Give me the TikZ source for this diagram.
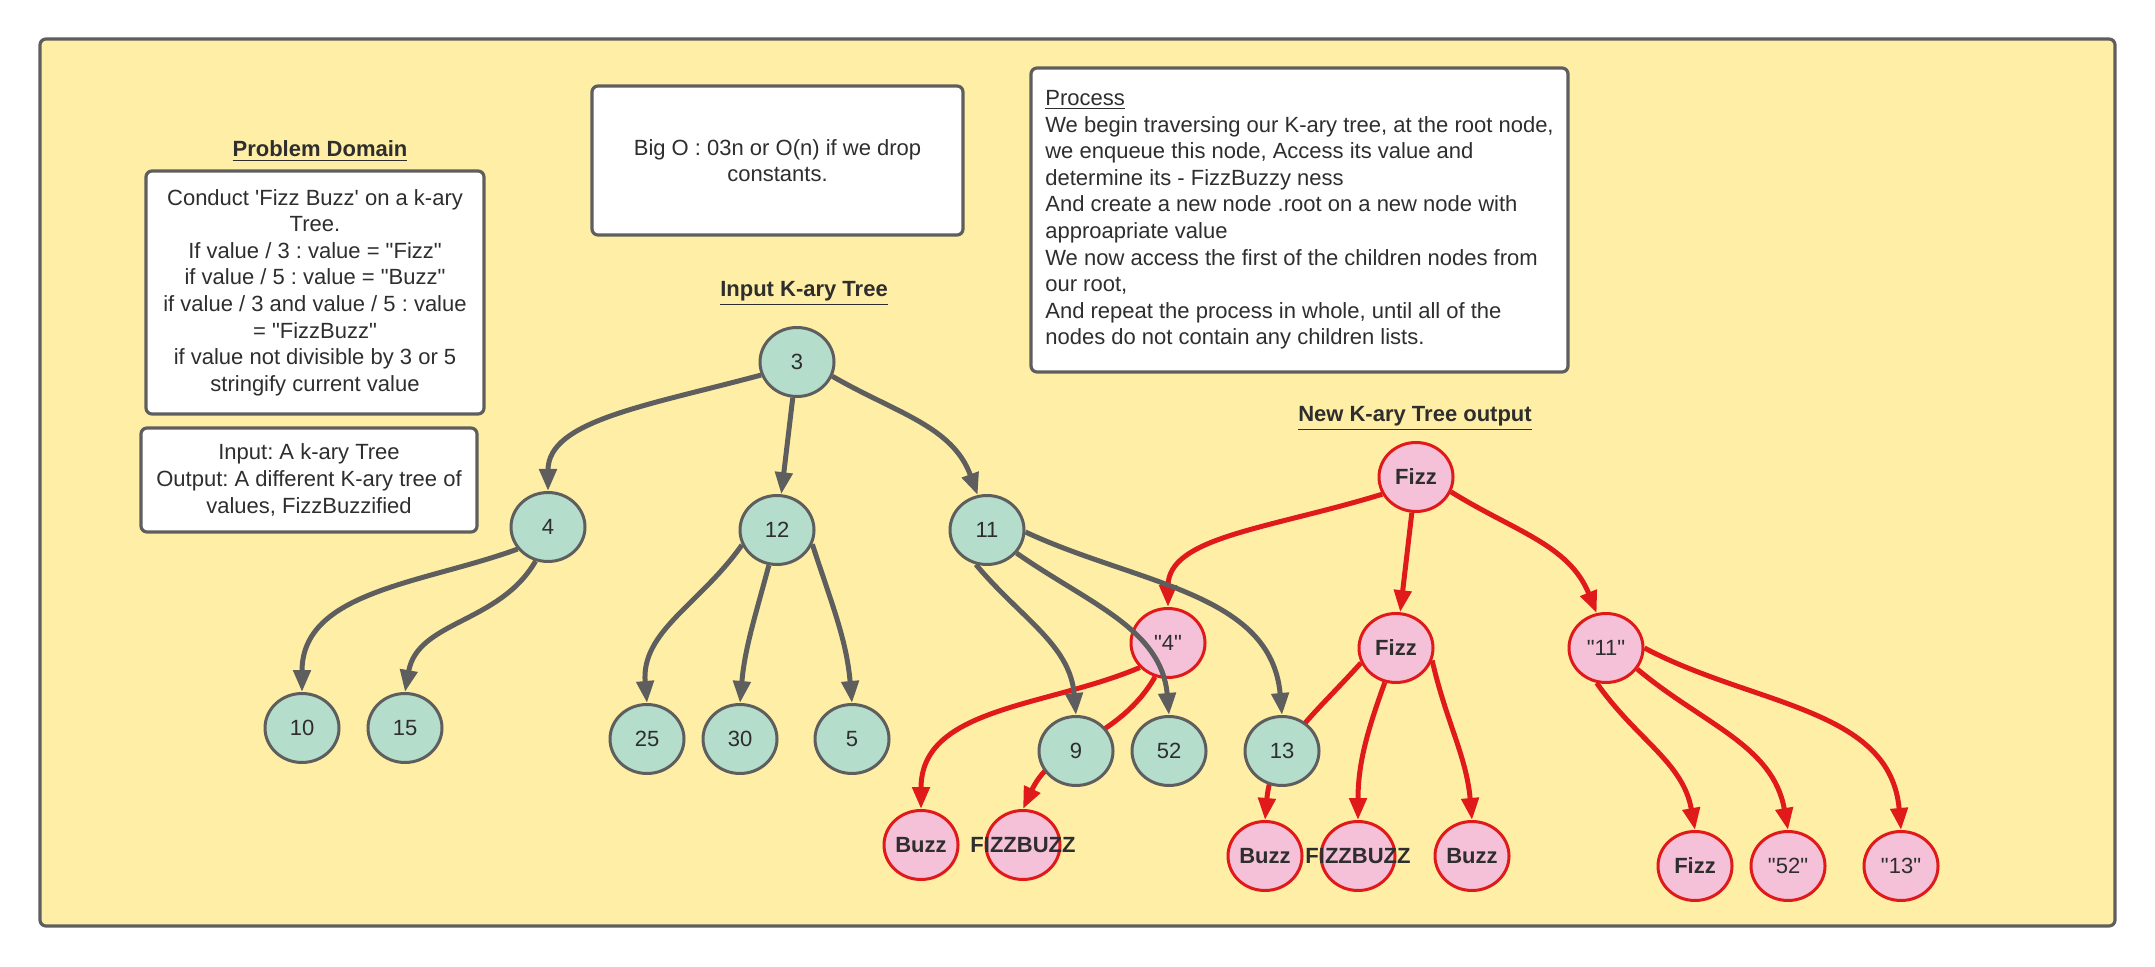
\documentclass[tikz,border=0pt]{standalone}
\usepackage{fontspec}
\newfontfamily\lsans{Liberation Sans}
\usetikzlibrary{shapes.geometric,arrows.meta}
\frenchspacing

\definecolor{paper}{HTML}{FFEFA6}
\definecolor{edgegrey}{HTML}{5E5E5E}
\definecolor{mint}{HTML}{B4DDCB}
\definecolor{rose}{HTML}{F5C1D8}
\definecolor{rededge}{HTML}{E01A1A}
\definecolor{ink}{HTML}{2E2E2E}

\newcommand{\wide}[1]{\makebox[0pt][c]{#1}}

\begin{document}
\begin{tikzpicture}[x=0.5pt, y=-0.5pt,
  every node/.style={text=ink, font=\lsans\frenchspacing\fontsize{11pt}{13.3pt}\selectfont},
  frame/.style={draw=edgegrey, line width=1.6pt, fill=paper, rounded corners=3pt},
  box/.style={draw=edgegrey, line width=1.6pt, fill=white, rounded corners=3pt, inner sep=0pt},
  title/.style={anchor=base, font=\lsans\bfseries\fontsize{11pt}{13.3pt}\selectfont},
  kn/.style={ellipse, minimum width=37pt, minimum height=34.5pt, inner sep=0pt, line width=1.5pt},
  innode/.style={kn, draw=edgegrey, fill=mint},
  outnode/.style={kn, draw=rededge, fill=rose},
  bold/.style={font=\lsans\bfseries\fontsize{11pt}{13.3pt}\selectfont},
  tip/.style={-{Triangle[length=11pt,width=8.5pt]}},
  garrow/.style={draw=edgegrey, line width=2.5pt, tip},
  rarrow/.style={draw=rededge, line width=2.5pt, tip}
]
\useasboundingbox (0,0) rectangle (2155,967);
\fill[white] (0,0) rectangle (2155,967);
\draw[frame] (40,39) rectangle (2115,926);

% text panels
\node[title] (pdtitle) at (320,157) {\underline{Problem Domain}};
\node[box, minimum width=169pt, minimum height=121.5pt, align=center] (pdbox) at (315,292.5)
  {Conduct 'Fizz Buzz' on a k-ary\\Tree.\\If value / 3 : value = "Fizz"\\if value / 5 : value = "Buzz"\\if value / 3 and value / 5 : value\\= "FizzBuzz"\\if value not divisible by 3 or 5\\stringify current value};
\node[box, minimum width=168pt, minimum height=52pt, align=center] (iobox) at (309,480)
  {Input: A k-ary Tree\\Output: A different K-ary tree of\\values, FizzBuzzified};
\node[box, minimum width=185.5pt, minimum height=74.5pt, align=center] (bigo) at (777.5,160.5)
  {Big O : 03n or O(n) if we drop\\constants.};
\node[box, minimum width=268.5pt, minimum height=152pt, align=left] (proc) at (1299.5,220)
  {\underline{Process}\\
   We begin traversing our K-ary tree, at the root node,\\
   we enqueue this node, Access its value and\\
   determine its - FizzBuzzy ness\\
   And create a new node .root on a new node with\\
   approapriate value\\
   We now access the first of the children nodes from\\
   our root,\\
   And repeat the process in whole, until all of the\\
   nodes do not contain any children lists.};
\node[title] (intitle) at (804,297) {\underline{Input K-ary Tree}};
\node[title] (outtitle) at (1415,422) {\underline{New K-ary Tree output}};

% output tree nodes
\node[outnode, bold] (p0) at (1416,477) {Fizz};
\node[outnode] (p4) at (1168,643) {"4"};
\node[outnode, bold] (pF) at (1396,648) {Fizz};
\node[outnode] (p11) at (1606,648) {"11"};
\node[outnode, bold] (pB1) at (921,845) {\wide{Buzz}};
\node[outnode, bold] (pFB1) at (1023,845) {\wide{FIZZBUZZ}};
\node[outnode, bold] (pB2) at (1265,856) {\wide{Buzz}};
\node[outnode, bold] (pFB2) at (1358,856) {\wide{FIZZBUZZ}};
\node[outnode, bold] (pB3) at (1472,856) {\wide{Buzz}};
\node[outnode, bold] (pF3) at (1695,866) {Fizz};
\node[outnode] (p52) at (1788,866) {"52"};
\node[outnode] (p13) at (1901,866) {"13"};

% output tree connectors
\draw[rarrow] (p0.207) to[out=197, in=90, out distance=60pt, in distance=35pt] (p4.north);
\draw[rarrow] (p0) -- (pF);
\draw[rarrow] (p0.-23) to[out=-32, in=112] (p11.105);
\draw[rarrow] (p4.221) to[out=203, in=90] (pB1.north);
\draw[rarrow] (p4.249) to[out=240, in=65] (pFB1.north);
\draw[rarrow] (pF.203) to[out=228, in=85] (pB2.north);
\draw[rarrow] (pF.252) to[out=250, in=90] (pFB2.north);
\draw[rarrow] (pF.-19) to[out=-77, in=95] (pB3.north);
\draw[rarrow] (p11.255) to[out=-55, in=100] (pF3.north);
\draw[rarrow] (p11.-34) to[out=-40, in=100] (p52.north);
\draw[rarrow] (p11.0) to[out=-28, in=95] (p13.north);

% input tree nodes
\node[innode] (n3) at (797,362) {3};
\node[innode] (n4) at (548,527) {4};
\node[innode] (n12) at (777,530) {12};
\node[innode] (n11) at (987,530) {11};
\node[innode] (n10) at (302,728) {10};
\node[innode] (n15) at (405,728) {15};
\node[innode] (n25) at (647,739) {25};
\node[innode] (n30) at (740,739) {30};
\node[innode] (n5) at (852,739) {5};
\node[innode] (n9) at (1076,751) {9};
\node[innode] (n52) at (1169,751) {52};
\node[innode] (n13) at (1282,751) {13};

% input tree connectors
\draw[garrow] (n3.200) to[out=195, in=90, out distance=60pt, in distance=35pt] (n4.north);
\draw[garrow] (n3) -- (n12);
\draw[garrow] (n3.-22) to[out=-30, in=110] (n11.105);
\draw[garrow] (n4.216) to[out=200, in=90] (n10.north);
\draw[garrow] (n4.250) to[out=240, in=80] (n15.north);
\draw[garrow] (n12.203) to[out=235, in=95] (n25.north);
\draw[garrow] (n12.257) to[out=255, in=85] (n30.north);
\draw[garrow] (n12.-22) to[out=-72, in=95] (n5.north);
\draw[garrow] (n11.252) to[out=-50, in=95] (n9.north);
\draw[garrow] (n11.-38) to[out=-35, in=95] (n52.north);
\draw[garrow] (n11.-3) to[out=-25, in=95] (n13.north);
\end{tikzpicture}
\end{document}
